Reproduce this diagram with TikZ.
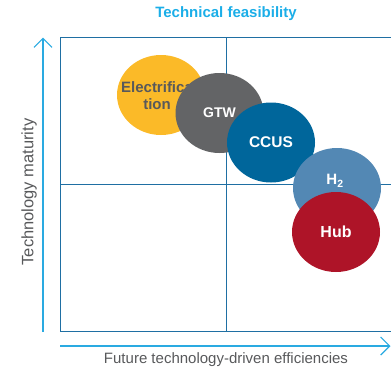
\documentclass[tikz,border=0pt]{standalone}
\usepackage{fontspec}
\setmainfont{Liberation Sans}
\usetikzlibrary{shapes.geometric}
\usetikzlibrary{arrows.meta}
\usetikzlibrary{positioning}

\definecolor{feascyan}{HTML}{1BAEE8}
\definecolor{axiscyan}{HTML}{2AAAE1}
\definecolor{gridblue}{HTML}{1F6FA3}
\definecolor{labelgray}{HTML}{58595B}
\definecolor{elecyellow}{HTML}{FBBA28}
\definecolor{gtwgray}{HTML}{636466}
\definecolor{ccusblue}{HTML}{00669B}
\definecolor{htwoblue}{HTML}{5388B4}
\definecolor{hubred}{HTML}{AE1428}

\begin{document}
\begin{tikzpicture}[x=1pt,y=-1pt,
      bubble/.style = {ellipse, minimum width=88pt, minimum height=80pt,
         inner sep=0pt, text=white, font=\fontsize{15}{17}\selectfont\bfseries},
      bubbletext/.style = {inner sep=0pt, align=center,
         font=\fontsize{15}{17}\selectfont\bfseries},
      axis/.style = {draw=axiscyan, line width=1.2pt,
         -{Straight Barb[length=9pt,width=18pt,line width=1.2pt]}},
      quad/.style = {draw=gridblue, line width=1pt},
      axislabel/.style = {text=labelgray, inner sep=0pt,
         font=\fontsize{15}{17}\selectfont}
]
   \useasboundingbox (0,0) rectangle (391,370);
   \clip (0,0) rectangle (391,370);

   % quadrant box
   \coordinate (q0) at (60,37);
   \coordinate (q1) at (395,331);
   \coordinate (mtop) at (226,37);
   \coordinate (mbot) at (226,331);
   \coordinate (mleft) at (60,184);
   \coordinate (mright) at (395,184);
   \draw[quad] (q0) rectangle (q1);
   \draw[quad] (mtop) -- (mbot);
   \draw[quad] (mleft) -- (mright);

   % axes
   \coordinate (y0) at (43,332);
   \coordinate (y1) at (43,37.5);
   \coordinate (x0) at (60,346);
   \coordinate (x1) at (390.5,346);
   \draw[axis] (y0) -- (y1);
   \draw[axis] (x0) -- (x1);

   \node[text=feascyan, font=\fontsize{15}{17}\selectfont\bfseries]
      (title) at (226,14) {Technical feasibility};
   \node[axislabel, rotate=90, font=\fontsize{16.5}{18}\selectfont]
      (ylab) at (29,192) {Technology maturity};
   \node[axislabel] (xlab) at (226,360) {Future technology-driven efficiencies};

   % bubbles
   \node[bubble, fill=elecyellow] (elec) at (161,95) {};
   \node[bubbletext, text=labelgray] (electxt) at ([xshift=-4pt,yshift=-1pt]elec.center)
      {Electrifica\\tion};
   \node[bubble, fill=gtwgray, font=\fontsize{14}{16}\selectfont\bfseries]
      (gtw) at (219.5,113) {GTW};
   \node[bubble, fill=ccusblue, font=\fontsize{15.5}{17}\selectfont\bfseries]
      (ccus) at (271,142.5) {CCUS};
   \node[bubble, fill=htwoblue] (htwo) at (337,188) {};
   \node[bubbletext, text=white] (htwotxt) at ([xshift=-2pt,yshift=7pt]htwo.center)
      {H\textsubscript{2}};
   \node[bubble, fill=hubred, font=\fontsize{16}{18}\selectfont\bfseries]
      (hub) at (336,232) {Hub};
\end{tikzpicture}
\end{document}
